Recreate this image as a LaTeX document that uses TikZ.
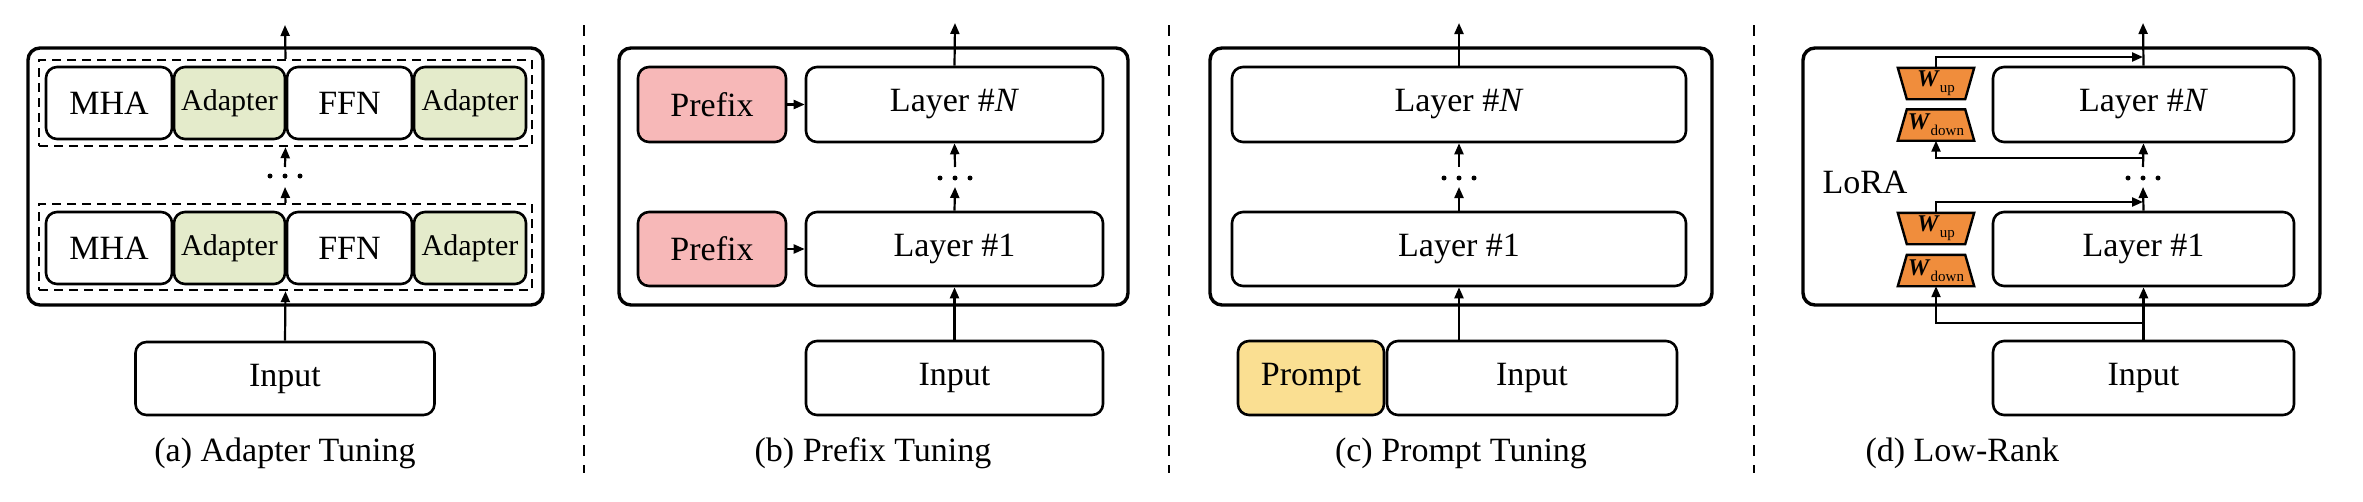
\documentclass[tikz,border=0pt]{standalone}
\usepackage{fontspec}
\setmainfont{Liberation Serif}
\usetikzlibrary{shapes.geometric,arrows.meta}
\definecolor{adapt}{HTML}{E4EBCB}
\definecolor{pref}{HTML}{F7B8B8}
\definecolor{prom}{HTML}{FADF92}
\definecolor{wor}{HTML}{F08D3C}
\begin{document}
\begin{tikzpicture}[x=1pt,y=-1pt,
  box/.style={draw,line width=2.6pt,rounded corners=11pt,inner sep=0pt,font=\fontsize{34}{40}\selectfont},
  outer/.style={draw,line width=3.4pt,rounded corners=12pt},
  dbox/.style={draw,line width=2.4pt,dash pattern=on 9pt off 6pt},
  arr/.style={line width=2.2pt,-{Triangle[length=11pt,width=9pt]}},
  capt/.style={font=\fontsize{34}{40}\selectfont},
  sep/.style={line width=2pt,dash pattern=on 11pt off 9pt},
  dot/.style={fill,circle,inner sep=0pt,minimum size=5pt},
  wt/.style={inner sep=0pt,minimum width=76pt,minimum height=31pt,font=\fontsize{24}{26}\selectfont},
  trap/.style={draw,line width=2.4pt,fill=wor}]
\useasboundingbox (0,0) rectangle (2363,501);
% separators
\coordinate (s1a) at (584,25); \coordinate (s1b) at (584,473);
\coordinate (s2a) at (1169,25); \coordinate (s2b) at (1169,473);
\coordinate (s3a) at (1754,25); \coordinate (s3b) at (1754,473);
\draw[sep] (s1a)--(s1b); \draw[sep] (s2a)--(s2b); \draw[sep] (s3a)--(s3b);
% ===== (a)
\node[outer,minimum width=515pt,minimum height=257pt] (aO) at (285.5,176.5) {};
\node[dbox,minimum width=493pt,minimum height=86pt] (aD2) at (285.5,103) {};
\node[dbox,minimum width=493pt,minimum height=86pt] (aD1) at (285.5,247) {};
\foreach \r/\y in {2/103,1/248}{
  \node[box,minimum width=126pt,minimum height=72pt] (aM\r) at (109,\y) {MHA};
  \node[box,fill=adapt,minimum width=111pt,minimum height=72pt,font=\fontsize{30}{34}\selectfont] (aA\r) at (229.5,\y) {Adapter};
  \node[box,minimum width=125pt,minimum height=72pt] (aF\r) at (349.5,\y) {FFN};
  \node[box,fill=adapt,minimum width=112pt,minimum height=72pt,font=\fontsize{30}{34}\selectfont] (aB\r) at (470,\y) {Adapter};
}
\node[box,minimum width=299pt,minimum height=73pt] (aI) at (285,378.5) {Input};
\node[capt] (aC) at (285,453) {(a) Adapter Tuning};
\coordinate (aT) at (285,25);
\coordinate (aU) at (285,167); \coordinate (aL) at (285,187);
\node[dot] (ad1) at (270,176) {}; \node[dot] (ad2) at (285,176) {}; \node[dot] (ad3) at (300,176) {};
\draw[arr] (aI.north) -- (aD1.south);
\draw[arr] (aD1.north) -- (aL);
\draw[arr] (aU) -- (aD2.south);
\draw[arr] (aD2.north) -- (aT);
% ===== (b)
\node[outer,minimum width=509pt,minimum height=257pt] (bO) at (873.5,176.5) {};
\node[box,fill=pref,minimum width=148pt,minimum height=75pt] (bP2) at (712,104.5) {Prefix};
\node[box,fill=pref,minimum width=148pt,minimum height=74pt] (bP1) at (712,249) {Prefix};
\node[box,minimum width=297pt,minimum height=75pt] (bN) at (954.5,104.5) {Layer \#\textit{N}};
\node[box,minimum width=297pt,minimum height=74pt] (b1) at (954.5,249) {Layer \#1};
\node[box,minimum width=297pt,minimum height=74pt] (bI) at (954.5,378) {Input};
\node[capt] (bC) at (873,453) {(b) Prefix Tuning};
\coordinate (bT) at (955,23); \coordinate (bU) at (955,167); \coordinate (bL) at (955,187);
\node[dot] (bd1) at (940,178) {}; \node[dot] (bd2) at (955,178) {}; \node[dot] (bd3) at (970,178) {};
\draw[arr] (bI.north) -- (b1.south);
\draw[arr] (b1.north) -- (bL);
\draw[arr] (bU) -- (bN.south);
\draw[arr] (bN.north) -- (bT);
\draw[arr] (bP2.east) -- (bN.west);
\draw[arr] (bP1.east) -- (b1.west);
% ===== (c)
\node[outer,minimum width=502pt,minimum height=257pt] (cO) at (1461,176.5) {};
\node[box,minimum width=454pt,minimum height=75pt] (cN) at (1459,104.5) {Layer \#\textit{N}};
\node[box,minimum width=454pt,minimum height=74pt] (c1) at (1459,249) {Layer \#1};
\node[box,fill=prom,minimum width=146pt,minimum height=74pt] (cP) at (1311,378) {Prompt};
\node[box,minimum width=290pt,minimum height=74pt] (cI) at (1532,378) {Input};
\node[capt] (cC) at (1461,453) {(c) Prompt Tuning};
\coordinate (cT) at (1459,23); \coordinate (cU) at (1459,167); \coordinate (cL) at (1459,187);
\coordinate (cB) at (1459,341);
\node[dot] (cd1) at (1444,178) {}; \node[dot] (cd2) at (1459,178) {}; \node[dot] (cd3) at (1474,178) {};
\draw[arr] (cB) -- (c1.south);
\draw[arr] (c1.north) -- (cL);
\draw[arr] (cU) -- (cN.south);
\draw[arr] (cN.north) -- (cT);
% ===== (d)
\node[outer,minimum width=517pt,minimum height=257pt] (dO) at (2061.5,176.5) {};
\node[box,minimum width=301pt,minimum height=75pt] (dN) at (2143.5,104.5) {Layer \#\textit{N}};
\node[box,minimum width=301pt,minimum height=74pt] (d1) at (2143.5,249) {Layer \#1};
\node[box,minimum width=301pt,minimum height=74pt] (dI) at (2143.5,378) {Input};
\foreach \n/\y in {UN/83.5,U1/228.5}{
  \node[wt] (d\n) at (1936,\y) {};
  \draw[trap] (d\n.north west) -- (d\n.north east) -- ([xshift=-9pt]d\n.south east) -- ([xshift=9pt]d\n.south west) -- cycle;
}
\foreach \n/\y in {DN/125,D1/270.5}{
  \node[wt] (d\n) at (1936,\y) {};
  \draw[trap] ([xshift=9pt]d\n.north west) -- ([xshift=-9pt]d\n.north east) -- (d\n.south east) -- (d\n.south west) -- cycle;
}
\node[font=\fontsize{24}{26}\selectfont] (lUN) at (1936,83.5) {\textbf{\textit{W}}\raisebox{-6pt}{\fontsize{15}{16}\selectfont up}};
\node[font=\fontsize{24}{26}\selectfont] (lDN) at (1936,125) {\textbf{\textit{W}}\raisebox{-6pt}{\fontsize{15}{16}\selectfont down}};
\node[font=\fontsize{24}{26}\selectfont] (lU1) at (1936,228.5) {\textbf{\textit{W}}\raisebox{-6pt}{\fontsize{15}{16}\selectfont up}};
\node[font=\fontsize{24}{26}\selectfont] (lD1) at (1936,270.5) {\textbf{\textit{W}}\raisebox{-6pt}{\fontsize{15}{16}\selectfont down}};
\node[capt] (dLo) at (1865,182) {LoRA};
\node[capt,anchor=west] (dC) at (1862,453) {(d) Low-Rank};
\coordinate (dT) at (2143,23); \coordinate (dU) at (2143,167); \coordinate (dL) at (2143,187);
\node[dot] (dd1) at (2128,178) {}; \node[dot] (dd2) at (2143,178) {}; \node[dot] (dd3) at (2158,178) {};
\coordinate (jNt) at (2143,57); \coordinate (kNt) at (1936,57);
\coordinate (jNb) at (2143,158); \coordinate (kNb) at (1936,158);
\coordinate (j1t) at (2143,202); \coordinate (k1t) at (1936,202);
\coordinate (j1b) at (2143,323); \coordinate (k1b) at (1936,323);
\draw[arr] (dI.north) -- (d1.south);
\draw[arr] (d1.north) -- (dL);
\draw[arr] (dU) -- (dN.south);
\draw[arr] (dN.north) -- (dT);
\draw[arr] (dUN.north) -- (kNt) -- (jNt);
\draw[arr] (jNb) -- (kNb) -- (dDN.south);
\draw[arr] (dU1.north) -- (k1t) -- (j1t);
\draw[arr] (j1b) -- (k1b) -- (dD1.south);
\end{tikzpicture}
\end{document}
